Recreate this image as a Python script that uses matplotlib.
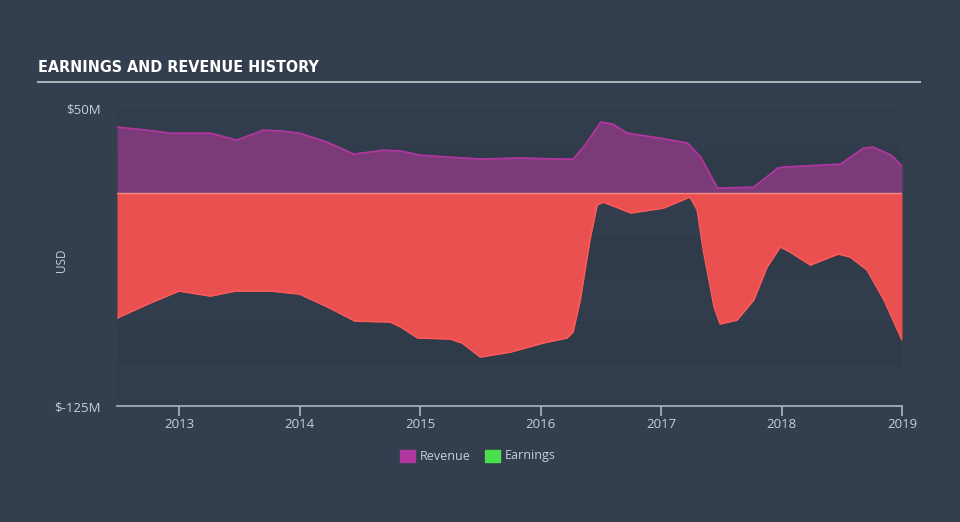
import matplotlib
matplotlib.use('Agg')
import matplotlib.pyplot as plt
from matplotlib.patches import Rectangle
from matplotlib.lines import Line2D

# ---- data (USD millions) ----
rev_t = [2012.485, 2012.73, 2012.93, 2013.26, 2013.48, 2013.70, 2013.86, 2014.0,
         2014.23, 2014.45, 2014.70, 2014.84, 2015.0, 2015.25, 2015.50, 2015.83,
         2016.16, 2016.27, 2016.37, 2016.50, 2016.60, 2016.72, 2016.99, 2017.22,
         2017.33, 2017.47, 2017.77, 2017.97, 2018.02, 2018.49, 2018.68, 2018.76,
         2018.91, 2019.0]
revenue = [38.8, 37.0, 35.2, 35.2, 31.1, 37.0, 36.4, 35.2,
           29.9, 22.9, 25.2, 24.7, 22.3, 21.1, 20.0, 20.6,
           20.0, 20.0, 28.2, 41.7, 40.5, 35.2, 32.3, 29.4,
           21.1, 2.9, 3.5, 14.7, 15.3, 17.0, 26.4, 27.0,
           22.3, 15.9]

earn_t = [2012.485, 2012.76, 2013.0, 2013.26, 2013.47, 2013.76, 2014.0, 2014.25,
          2014.46, 2014.75, 2014.84, 2014.98, 2015.25, 2015.35, 2015.50, 2015.75,
          2016.02, 2016.22, 2016.27, 2016.33, 2016.41, 2016.47, 2016.52, 2016.75,
          2017.02, 2017.24, 2017.30, 2017.35, 2017.44, 2017.49, 2017.63, 2017.77,
          2017.88, 2017.99, 2018.07, 2018.24, 2018.47, 2018.57, 2018.71, 2018.85,
          2019.0]
earnings = [-73.4, -64.6, -57.5, -60.5, -57.5, -57.5, -59.3, -67.5,
            -75.2, -75.7, -78.7, -85.1, -85.7, -88.1, -96.3, -93.4,
            -88.1, -85.1, -81.6, -62.8, -27.6, -7.0, -5.3, -11.7,
            -8.8, -2.3, -10.0, -33.5, -66.9, -76.9, -74.6, -62.8,
            -43.5, -31.7, -34.6, -42.3, -35.8, -37.6, -45.2, -62.8,
            -86.3]

years = [2013, 2014, 2015, 2016, 2017, 2018, 2019]
ytick_vals = [50, -125]
ytick_labels = ['$50M', '$-125M']

BG = '#333f4e'
PLOT_DARK = '#2f3b49'
PLOT_LIGHT = '#313d4c'
TXT = '#c9ced6'
REV_FILL = '#7b3a78'
REV_LINE = '#b2369f'
EARN_FILL = '#e9504f'
EARN_LINE = '#ff5b5b'

fig = plt.figure(figsize=(9.6, 5.22), dpi=100, facecolor=BG)
ax = fig.add_axes([117 / 960, 1 - 406 / 522, (902 - 117) / 960, (406 - 108) / 522])
ax.set_facecolor(PLOT_DARK)

ax.set_xlim(rev_t[0], 2019.0)
ax.set_ylim(-125, 50)

# subtle alternating background bands
for i, lo in enumerate(range(-125, 50, 25)):
    ax.axhspan(lo, lo + 25, color=PLOT_LIGHT if i % 2 == 0 else PLOT_DARK, lw=0, zorder=0)

ax.fill_between(rev_t, 0, revenue, color=REV_FILL, lw=0, zorder=2)
ax.plot(rev_t, revenue, color=REV_LINE, lw=1.3, zorder=3)
ax.fill_between(earn_t, 0, earnings, color=EARN_FILL, lw=0, zorder=4)
ax.plot(earn_t, earnings, color=EARN_LINE, lw=1.0, zorder=5)
ax.axhline(0, color='#f58a84', lw=1.0, zorder=5)

for s in ['top', 'right', 'left']:
    ax.spines[s].set_visible(False)
ax.spines['bottom'].set_color('#a9b6c6')
ax.spines['bottom'].set_linewidth(1.2)

ax.set_xticks(years)
ax.set_xticklabels([str(y) for y in years])
ax.tick_params(axis='x', colors='#a9b6c6', length=7, width=1.2, labelcolor=TXT,
               labelsize=9.5, pad=2)
ax.set_yticks(ytick_vals)
ax.set_yticklabels(ytick_labels)
ax.tick_params(axis='y', length=0, labelcolor=TXT, labelsize=9.5, pad=12)
for lbl in ax.get_xticklabels() + ax.get_yticklabels():
    lbl.set_family(['Open Sans', 'DejaVu Sans'])

fig.text(62 / 960, 1 - 260 / 522, 'USD', rotation=90, color=TXT, fontsize=8.5,
         ha='center', va='center', family=['Open Sans', 'DejaVu Sans'])

# title and rule
fig.text(38 / 960, 1 - 68 / 522, 'EARNINGS AND REVENUE HISTORY', color='white',
         fontsize=11.5, fontweight='bold', fontstretch='condensed', ha='left',
         va='center', family=['DejaVu Sans'])
fig.add_artist(Line2D([38 / 960, 920 / 960], [1 - 82 / 522, 1 - 82 / 522],
                      color='#aab0b8', lw=1.5))

# legend
ly = 1 - 456 / 522
for x, c, name in [(400, REV_LINE, 'Revenue'), (485, '#4be04b', 'Earnings')]:
    fig.add_artist(Rectangle((x / 960, ly - 6 / 522), 15 / 960, 12 / 522,
                             color=c, transform=fig.transFigure))
    fig.text((x + 20) / 960, ly, name, color=TXT, fontsize=9, ha='left', va='center',
             family=['Open Sans', 'DejaVu Sans'])

fig.savefig('out.png', dpi=100, facecolor=BG)
